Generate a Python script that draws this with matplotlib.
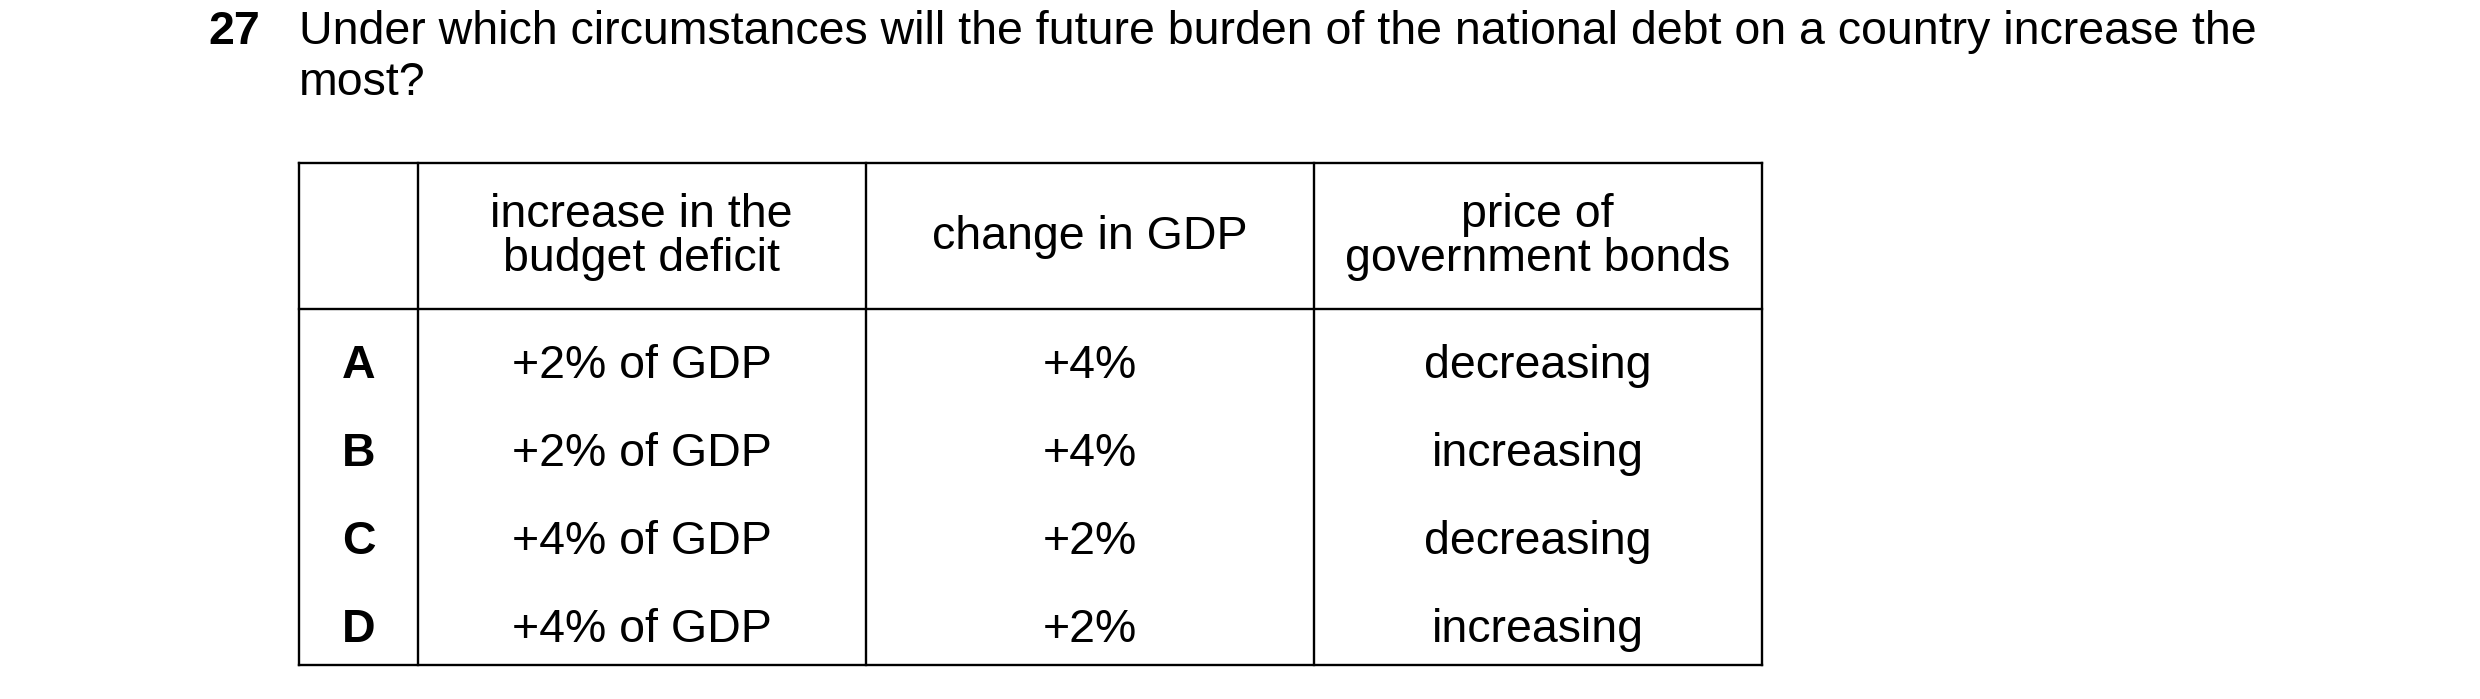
import matplotlib.pyplot as plt

question_no = '27'
question = ['Under which circumstances will the future burden of the national debt on a country increase the',
            'most?']
headers = ['', 'increase in the\nbudget deficit', 'change in GDP', 'price of\ngovernment bonds']
letters = ['A', 'B', 'C', 'D']
deficit = ['+2% of GDP', '+2% of GDP', '+4% of GDP', '+4% of GDP']
gdp_change = ['+4%', '+4%', '+2%', '+2%']
bond_price = ['decreasing', 'increasing', 'decreasing', 'increasing']

plt.rcParams['font.family'] = ['Liberation Sans', 'DejaVu Sans']

# layout in units of a 1550 x 437 canvas
W, H = 1550, 437
col_x = [187, 261, 541, 821, 1101]
row_y = [102, 193, 416]
row_centers = [229, 284, 339, 394]
fs = 33.5

fig = plt.figure(figsize=(24.8, 6.99), dpi=100)
ax = fig.add_axes([0, 0, 1, 1])
ax.set_xlim(0, W)
ax.set_ylim(H, 0)
ax.axis('off')

ax.text(130, 20, question_no, fontsize=fs, fontweight='bold', va='center', ha='left')
ax.text(187, 20, question[0], fontsize=fs, va='center', ha='left')
ax.text(187, 52, question[1], fontsize=fs, va='center', ha='left')

lw = 1.7
for x in col_x:
    ax.plot([x, x], [row_y[0], row_y[-1]], color='black', lw=lw)
for y in row_y:
    ax.plot([col_x[0], col_x[-1]], [y, y], color='black', lw=lw)

centers = [(col_x[i] + col_x[i + 1]) / 2 for i in range(4)]
for c, h in zip(centers, headers):
    ax.text(c, 148, h, fontsize=fs, ha='center', va='center', linespacing=1.0)

for i, y in enumerate(row_centers):
    ax.text(centers[0], y, letters[i], fontsize=fs, fontweight='bold', ha='center', va='center')
    ax.text(centers[1], y, deficit[i], fontsize=fs, ha='center', va='center')
    ax.text(centers[2], y, gdp_change[i], fontsize=fs, ha='center', va='center')
    ax.text(centers[3], y, bond_price[i], fontsize=fs, ha='center', va='center')

fig.savefig('out.png', dpi=100, facecolor='white')
